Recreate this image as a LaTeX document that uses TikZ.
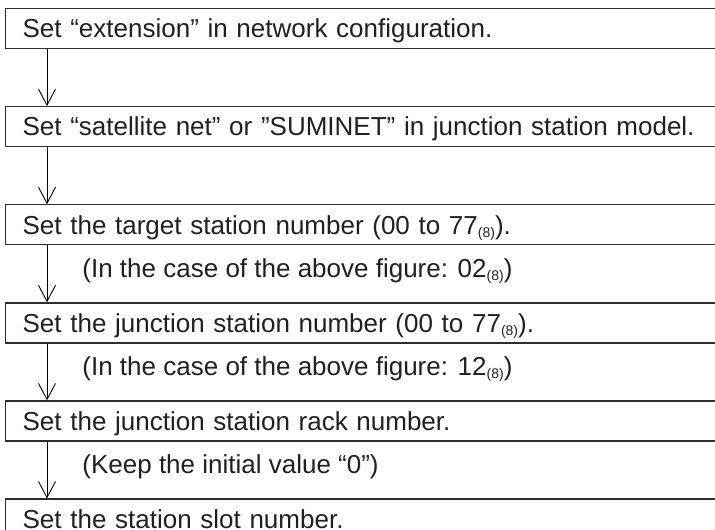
\documentclass[tikz,border=0pt]{standalone}
\usepackage{fontspec}
\setmainfont{Liberation Sans}
\usetikzlibrary{arrows.meta,positioning}
\definecolor{BoxLine}{RGB}{45,45,45}
\definecolor{InkGray}{RGB}{35,31,32}
\newcommand{\octsub}{{\fontsize{14}{14}\selectfont\raisebox{-3pt}{(8)}}}
\tikzset{
  stepbox/.style={draw=BoxLine,line width=1.3pt,minimum height=40pt,
    text width=720pt,text height=18.5pt,text depth=0pt,
    inner xsep=17pt,inner ysep=0pt,align=left,
    text=InkGray,font=\fontsize{26}{30}\selectfont},
  note/.style={text=InkGray,font=\fontsize{26}{30}\selectfont,
    inner sep=0pt,anchor=west,xshift=35pt,yshift=3pt},
  arrow/.style={-{Straight Barb[length=16pt,width=17pt]},line width=0.9pt,black}
}

\begin{document}
\begin{tikzpicture}[x=1pt,y=1pt,node distance=56.8pt]
      \useasboundingbox (0,0) rectangle (715,530);
      \clip (0,0) rectangle (715,530);
      \node[stepbox,anchor=north west] (ext) at (5,522)
        {Set “extension” in network configuration.};
      \node[stepbox,below right=56.8pt and 0pt of ext.south west] (model)
        {Set “satellite net” or ”SUMINET” in junction station model.};
      \node[stepbox,below right=56.8pt and 0pt of model.south west] (target)
        {Set the target station number (00 to 77\octsub).};
      \node[stepbox,below right=56.8pt and 0pt of target.south west] (junction)
        {Set the junction station number (00 to 77\octsub).};
      \node[stepbox,below right=56.8pt and 0pt of junction.south west] (rack)
        {Set the junction station rack number.};
      \node[stepbox,below right=56.8pt and 0pt of rack.south west] (slot)
        {Set the station slot number.};

      \draw[arrow] ([xshift=42pt]ext.south west) -- ([xshift=42pt]model.north west);
      \draw[arrow] ([xshift=42pt]model.south west) -- ([xshift=42pt]target.north west);
      \draw[arrow] ([xshift=42pt]target.south west) --
        node[note]{(In the case of the above figure: 02\octsub)}
        ([xshift=42pt]junction.north west);
      \draw[arrow] ([xshift=42pt]junction.south west) --
        node[note]{(In the case of the above figure: 12\octsub)}
        ([xshift=42pt]rack.north west);
      \draw[arrow] ([xshift=42pt]rack.south west) --
        node[note]{(Keep the initial value “0”)}
        ([xshift=42pt]slot.north west);
    \end{tikzpicture}
\end{document}
